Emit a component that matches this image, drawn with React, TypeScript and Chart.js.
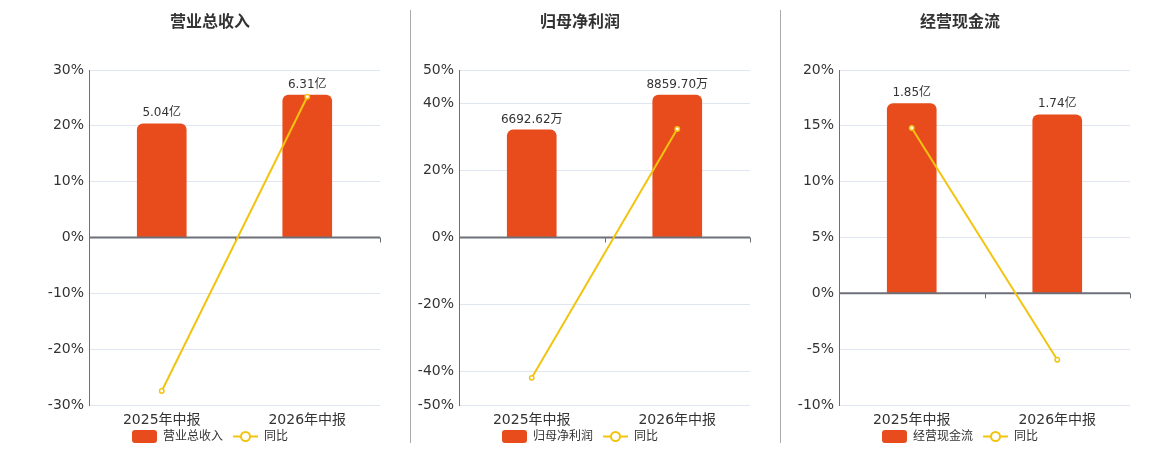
import { useEffect, useRef } from 'react';
import { Chart, registerables } from 'chart.js';

Chart.register(...registerables);

const FONT = 'DejaVu Sans, "Noto Sans CJK SC", sans-serif';
const BAR_COLOR = '#E84C1D';
const LINE_COLOR = '#F2C40F';
const AXIS_COLOR = '#6E7079';
const GRID_COLOR = '#E0E6F1';
const TEXT_COLOR = '#333';

const categories = ['2025年中报', '2026年中报'];

// 营业总收入 (亿) and yoy %
const revenueValues = [5.04, 6.31];
const revenueYoy = [-27.5, 25.2];
const revenueTicks = [-30, -20, -10, 0, 10, 20, 30];

// 归母净利润 (万) and yoy %
const profitValues = [6692.62, 8859.7];
const profitYoy = [-41.9, 32.38];
const profitTicks = [-50, -40, -20, 0, 20, 40, 50];

// 经营现金流 (亿) and yoy %
const cashValues = [1.85, 1.74];
const cashYoy = [14.8, -5.95];
const cashTicks = [-10, -5, 0, 5, 10, 15, 20];

interface PanelProps {
    title: string;
    seriesName: string;
    values: number[];
    unit: string;
    yoy: number[];
    ticks: number[];
    left: number;
}

const Legend = ({ name, left }: { name: string; left: number }) => (
    <div
        style={{
            position: 'absolute',
            left,
            top: 429.5,
            width: 380,
            height: 13,
            display: 'flex',
            justifyContent: 'center',
            alignItems: 'center',
            font: `12px ${FONT}`,
            lineHeight: '13px',
            color: TEXT_COLOR,
        }}
    >
        <span style={{ width: 25, height: 13, borderRadius: 3, background: BAR_COLOR }} />
        <span style={{ marginLeft: 6 }}>{name}</span>
        <svg width={25} height={13} style={{ marginLeft: 10 }}>
            <line x1={0} y1={6.5} x2={25} y2={6.5} stroke={LINE_COLOR} strokeWidth={2} />
            <circle cx={12.5} cy={6.5} r={4.5} fill="#fff" stroke={LINE_COLOR} strokeWidth={2} />
        </svg>
        <span style={{ marginLeft: 6 }}>同比</span>
    </div>
);

const Panel = ({ title, seriesName, values, unit, yoy, ticks, left }: PanelProps) => {
    const canvasRef = useRef<HTMLCanvasElement | null>(null);

    useEffect(() => {
        if (!canvasRef.current) return;
        const yMin = ticks[0];
        const yMax = ticks[ticks.length - 1];
        const barMax = Math.max(...values) / 0.85;
        const barMin = (barMax * yMin) / yMax;
        const labels = values.map((v) => v.toFixed(2) + unit);

        const zeroAxis = {
            id: 'zeroAxis',
            afterDatasetDraw(chart: any, args: any) {
                if (args.index !== 0) return;
                const { ctx, chartArea } = chart;
                const y0 = chart.scales.y.getPixelForValue(0);
                ctx.save();
                ctx.strokeStyle = AXIS_COLOR;
                ctx.lineWidth = 2;
                ctx.beginPath();
                ctx.moveTo(chartArea.left, y0);
                ctx.lineTo(chartArea.right, y0);
                ctx.stroke();
                ctx.lineWidth = 1;
                const n = categories.length;
                for (let i = 0; i <= n; i++) {
                    const x = Math.round(chartArea.left + ((chartArea.right - chartArea.left) * i) / n) + 0.5;
                    ctx.beginPath();
                    ctx.moveTo(x, y0);
                    ctx.lineTo(x, y0 + 5);
                    ctx.stroke();
                }
                ctx.restore();
            },
        };

        const barLabels = {
            id: 'barLabels',
            afterDatasetsDraw(chart: any) {
                const meta = chart.getDatasetMeta(0);
                const ctx = chart.ctx;
                ctx.save();
                ctx.font = `12px ${FONT}`;
                ctx.fillStyle = TEXT_COLOR;
                ctx.textAlign = 'center';
                ctx.textBaseline = 'middle';
                meta.data.forEach((bar: any, i: number) => {
                    ctx.fillText(labels[i], bar.x, bar.y - 10.5);
                });
                ctx.restore();
            },
        };

        const chart = new Chart(canvasRef.current, {
            type: 'bar',
            data: {
                labels: categories,
                datasets: [
                    {
                        type: 'bar',
                        label: seriesName,
                        data: values,
                        backgroundColor: BAR_COLOR,
                        borderRadius: 6,
                        borderSkipped: 'start',
                        barThickness: 49,
                        yAxisID: 'y1',
                        order: 1,
                    },
                    {
                        type: 'line',
                        label: '同比',
                        data: yoy,
                        borderColor: LINE_COLOR,
                        borderWidth: 2,
                        pointRadius: 2.2,
                        pointBorderWidth: 1.5,
                        pointBackgroundColor: '#fff',
                        pointBorderColor: LINE_COLOR,
                        tension: 0,
                        yAxisID: 'y',
                        order: 0,
                    } as any,
                ],
            },
            options: {
                responsive: false,
                animation: false,
                layout: { padding: { top: 0, left: 0, right: 0, bottom: 20 } },
                font: { family: FONT },
                scales: {
                    x: {
                        grid: { display: false, drawTicks: false },
                        border: { display: false },
                        ticks: { color: TEXT_COLOR, padding: 7, font: { size: 14, family: FONT } },
                        afterFit: (scale: any) => {
                            scale.height = 27;
                        },
                    },
                    y: {
                        position: 'left',
                        min: yMin,
                        max: yMax,
                        afterBuildTicks: (scale: any) => {
                            scale.ticks = ticks.map((v) => ({ value: v }));
                        },
                        grid: { color: GRID_COLOR, drawTicks: false },
                        border: { display: true, color: AXIS_COLOR, width: 1 },
                        ticks: {
                            color: TEXT_COLOR,
                            padding: 5,
                            font: { size: 14, family: FONT },
                            callback: (v: any) => `${v}%`,
                        },
                        afterFit: (scale: any) => {
                            scale.width = 69;
                        },
                    },
                    y1: {
                        position: 'right',
                        min: barMin,
                        max: barMax,
                        grid: { display: false, drawTicks: false },
                        border: { display: false },
                        ticks: { display: false },
                        afterFit: (scale: any) => {
                            scale.width = 20;
                        },
                    },
                },
                plugins: {
                    title: {
                        display: true,
                        text: title,
                        color: TEXT_COLOR,
                        font: { size: 16, weight: 'bold', family: FONT },
                        padding: { top: 13, bottom: 37.8 },
                    },
                    legend: { display: false },
                    tooltip: { enabled: false },
                },
            },
            plugins: [zeroAxis, barLabels],
        });

        return () => {
            chart.destroy();
        };
    }, [title, seriesName, values, unit, yoy, ticks]);

    return (
        <>
            <canvas
                ref={canvasRef}
                width={380}
                height={452}
                style={{ position: 'absolute', left, top: 0 }}
            />
            <Legend name={seriesName} left={left} />
        </>
    );
};

const App = () => {
    return (
        <div
            style={{
                position: 'absolute',
                left: 0,
                top: 0,
                width: 1160,
                height: 450,
                overflow: 'hidden',
                background: '#fff',
            }}
        >
            <Panel title="营业总收入" seriesName="营业总收入" values={revenueValues} unit="亿" yoy={revenueYoy} ticks={revenueTicks} left={20} />
            <Panel title="归母净利润" seriesName="归母净利润" values={profitValues} unit="万" yoy={profitYoy} ticks={profitTicks} left={390} />
            <Panel title="经营现金流" seriesName="经营现金流" values={cashValues} unit="亿" yoy={cashYoy} ticks={cashTicks} left={770} />
            <div style={{ position: 'absolute', left: 410, top: 10, width: 1, height: 433, background: '#aaa' }} />
            <div style={{ position: 'absolute', left: 780, top: 10, width: 1, height: 433, background: '#aaa' }} />
        </div>
    );
};

export default App;
